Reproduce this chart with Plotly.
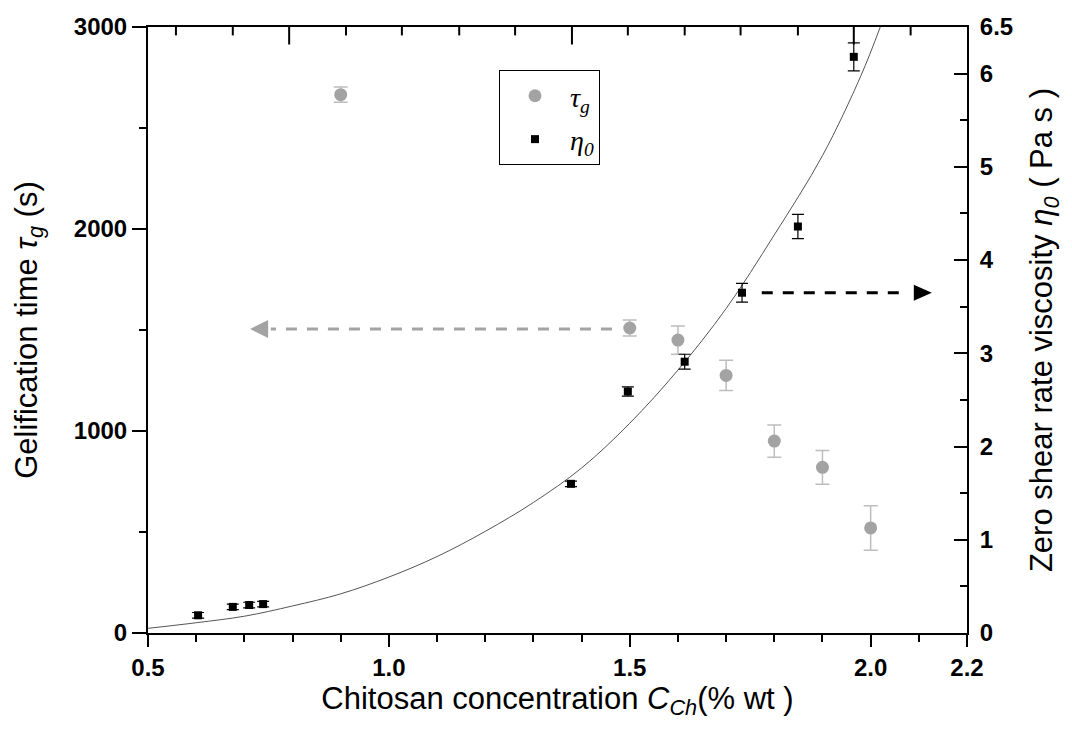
import plotly.graph_objects as go

# ---- data ----
# gelification time (left axis)
tau_c = [0.9, 1.5, 1.6, 1.7, 1.8, 1.9, 2.0]
tau_g = [2665, 1510, 1450, 1275, 950, 820, 520]
tau_err = [38, 40, 70, 75, 80, 83, 110]

# zero shear rate viscosity (right axis)
eta_c = [0.604, 0.676, 0.71, 0.739, 1.378, 1.496, 1.614, 1.733, 1.849, 1.965]
eta_0 = [0.19, 0.28, 0.30, 0.31, 1.60, 2.59, 2.91, 3.65, 4.36, 6.18]
eta_err = [0.03, 0.03, 0.03, 0.03, 0.03, 0.05, 0.08, 0.10, 0.13, 0.15]

# fitted curve (right axis)
fit_c = [0.50, 0.60, 0.70, 0.80, 0.90, 1.00, 1.10, 1.20, 1.30, 1.40,
         1.50, 1.60, 1.70, 1.80, 1.90, 1.98, 2.02]
fit_eta = [0.05, 0.11, 0.18, 0.29, 0.42, 0.60, 0.82, 1.09, 1.40, 1.77,
           2.25, 2.82, 3.48, 4.27, 5.12, 5.98, 6.50]

# axis ticks
x_range = [0.5, 2.2]
y_range = [0, 3000]
y2_range = [0, 6.5]
x_tickvals = [0.5, 1.0, 1.5, 2.0, 2.2]
x_ticktext = ["0.5", "1.0", "1.5", "2.0", "2.2"]
y_tickvals = [0, 1000, 2000, 3000]
y2_tickvals = [0, 1, 2, 3, 4, 5, 6, 6.5]
y2_ticktext = ["0", "1", "2", "3", "4", "5", "6", "6.5"]
# top frame tick marks (hanging inside)
top_minor_c = [0.558, 0.676, 0.911, 1.027, 1.146, 1.262, 1.496, 1.614,
               1.730, 1.849, 2.083]
top_major_c = [0.793, 1.380, 1.965]

# direction arrows: [x start, x end], level, tip position
gray_arrow_x = [1.463, 0.755]
gray_arrow_y = 1505
gray_arrow_tip = 0.712
black_arrow_x = [1.774, 2.075]
black_arrow_y = 3.65
black_arrow_tip = 2.127

GRAY = "#a3a3a3"
GRAY_ERR = "#bdbdbd"
SANS = "Liberation Sans"
SERIF = "Liberation Serif"

fig = go.Figure()

fig.add_trace(go.Scatter(
    x=fit_c, y=fit_eta, yaxis="y2", mode="lines", line=dict(color="#555555", width=1),
    line_shape="spline", showlegend=False, hoverinfo="skip"))

fig.add_trace(go.Scatter(
    x=tau_c, y=tau_g, mode="markers", name="<i>τ<sub>g</sub></i>",
    legendgroup="a",
    marker=dict(symbol="circle", size=13, color=GRAY),
    error_y=dict(type="data", array=tau_err, color=GRAY_ERR, thickness=1.5, width=7)))

fig.add_trace(go.Scatter(
    x=eta_c, y=eta_0, yaxis="y2", mode="markers", name="<i>η<sub>0</sub></i>",
    legendgroup="b",
    marker=dict(symbol="square", size=8, color="black"),
    error_y=dict(type="data", array=eta_err, color="black", thickness=1.2, width=6)))

# top frame ticks: vertical line markers on the top edge, clipped to the plot area
for ticks_c, size in ((top_minor_c, 12), (top_major_c, 25)):
    fig.add_trace(go.Scatter(
        x=ticks_c, y=[y_range[1]] * len(ticks_c), mode="markers", cliponaxis=True,
        marker=dict(symbol="line-ns", size=size, color="black",
                    line=dict(color="black", width=2)),
        showlegend=False, hoverinfo="skip"))

shapes = [
    dict(type="line", xref="x", yref="y", x0=gray_arrow_x[0], x1=gray_arrow_x[1],
         y0=gray_arrow_y, y1=gray_arrow_y, line=dict(color=GRAY, width=3, dash="11px,10px")),
    dict(type="path", xref="x", yref="y", xsizemode="pixel", ysizemode="pixel",
         xanchor=gray_arrow_tip, yanchor=gray_arrow_y,
         path="M0,0 L18,9 L18,-9 Z", fillcolor=GRAY, line=dict(width=0)),
    dict(type="line", xref="x", yref="y2", x0=black_arrow_x[0], x1=black_arrow_x[1],
         y0=black_arrow_y, y1=black_arrow_y, line=dict(color="black", width=3, dash="11px,10px")),
    dict(type="path", xref="x", yref="y2", xsizemode="pixel", ysizemode="pixel",
         xanchor=black_arrow_tip, yanchor=black_arrow_y,
         path="M0,0 L-18,8 L-18,-8 Z", fillcolor="black", line=dict(width=0)),
]

tickfont = dict(family=SANS, size=24, color="black", weight="bold")
titlefont = dict(family=SANS, size=31, color="black")

fig.update_layout(
    width=1056, height=713,
    margin=dict(l=140, r=97, t=19, b=88, autoexpand=False),
    paper_bgcolor="white", plot_bgcolor="white",
    shapes=shapes,
    showlegend=True,
    legend=dict(x=0.4286, y=0.929, xanchor="left", yanchor="top",
                bordercolor="black", borderwidth=1, bgcolor="white",
                font=dict(family=SERIF, size=28, color="black"),
                traceorder="grouped", tracegroupgap=4, itemwidth=60,
                entrywidth=86),
    xaxis=dict(type="linear", range=x_range, tickvals=x_tickvals, ticktext=x_ticktext,
               ticks="outside", ticklen=12, tickwidth=2, tickcolor="black",
               minor=dict(dtick=0.1, tick0=0.5, ticks="outside", ticklen=7,
                          tickwidth=2, tickcolor="black"),
               showline=True, mirror=True, linecolor="black", linewidth=2,
               showgrid=False, zeroline=False, tickfont=tickfont,
               title=dict(text="Chitosan concentration <i>C</i><sub><i>Ch</i></sub>(% wt )",
                          font=titlefont, standoff=4)),
    yaxis=dict(type="linear", range=y_range, tickvals=y_tickvals, ticks="outside", ticklen=14,
               tickwidth=2, tickcolor="black",
               minor=dict(dtick=500, ticks="outside", ticklen=7, tickwidth=2,
                          tickcolor="black"),
               showline=True, linecolor="black", linewidth=2, showgrid=False,
               zeroline=False, tickfont=tickfont,
               title=dict(text="Gelification time <i>τ</i><sub><i>g</i></sub> (s)",
                          font=titlefont, standoff=27)),
    yaxis2=dict(type="linear", overlaying="y", side="right", range=y2_range,
                tickvals=y2_tickvals, ticktext=y2_ticktext, ticks="inside", ticklen=13,
                tickwidth=2, tickcolor="black", ticklabelstandoff=6,
                minor=dict(dtick=0.5, ticks="inside", ticklen=7, tickwidth=2,
                           tickcolor="black"),
                showline=True, linecolor="black", linewidth=2, showgrid=False,
                zeroline=False, tickfont=tickfont,
                title=dict(text="Zero shear rate viscosity <i>η</i><sub><i>0</i></sub> ( Pa s )",
                           font=titlefont, standoff=22)),
)

fig.write_html("out.html")
